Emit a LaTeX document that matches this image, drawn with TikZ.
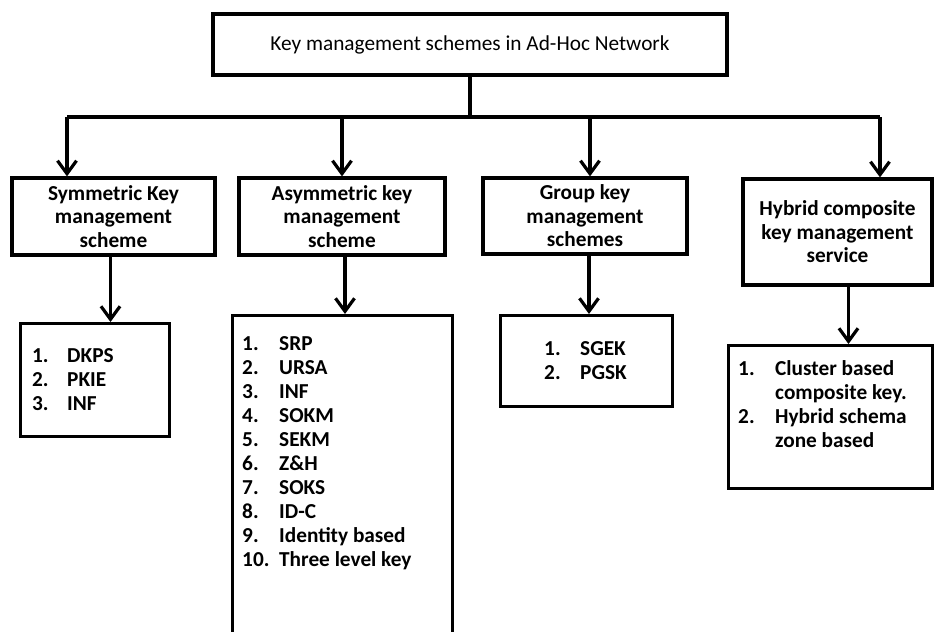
\documentclass[tikz,border=0pt]{standalone}
\usepackage{fontspec}
\setmainfont{Carlito}
\usetikzlibrary{arrows.meta,positioning,calc}

\begin{document}
\begin{tikzpicture}[x=1pt, y=-1pt,
    box/.style={rectangle, draw, line width=3.2pt, align=center, inner sep=0pt, font=\bfseries\fontsize{21.3}{23.5}\selectfont},
    listbox/.style={rectangle, draw, line width=3.2pt, anchor=north west, inner sep=0pt},
    listtext/.style={anchor=base west, inner sep=0pt, align=left, font=\bfseries\fontsize{21.3}{24}\selectfont},
    arrow/.style={-{Straight Barb[length=13pt,width=19pt]}, line width=3.2pt},
    link/.style={line width=3.2pt},
]
\useasboundingbox (0,0) rectangle (935,632);
\clip (0,0) rectangle (935,632);

% === ROOT ===
\node[box, font=\fontsize{21.3}{24}\selectfont, minimum width=514pt, minimum height=61pt] (root) at (470,44.5) {Key management schemes in Ad-Hoc Network};

% === SCHEMES ===
\node[box, minimum width=203pt, minimum height=77pt] (sym) at (113.5,216.5) {Symmetric Key\\management\\scheme};
\node[box, minimum width=206pt, minimum height=77pt] (asym) at (342,216.5) {Asymmetric key\\management\\scheme};
\node[box, minimum width=204pt, minimum height=76pt] (grp) at (585,216) {Group key\\management\\schemes};
\node[box, minimum width=189pt, minimum height=106pt] (hyb) at (837.5,232) {Hybrid composite\\key management\\service};

% === LISTS ===
\node[listbox, minimum width=149pt, minimum height=113pt] (slist) at (19,322) {};
\node[listbox, minimum width=220pt, minimum height=400pt] (alist) at (231,314) {};
\node[listbox, minimum width=172pt, minimum height=91pt] (glist) at (499,314) {};
\node[listbox, minimum width=204pt, minimum height=143pt] (hlist) at (727,344) {};

\node[listtext] (slisttxt) at ($(slist.north west)+(13,40)$) {\begin{tabular}[t]{@{}p{35pt}@{}l@{}}
1. & DKPS\\ 2. & PKIE\\ 3. & INF
\end{tabular}};
\node[listtext] (alisttxt) at ($(alist.north west)+(11,36)$) {\begin{tabular}[t]{@{}p{37pt}@{}l@{}}
1. & SRP\\ 2. & URSA\\ 3. & INF\\ 4. & SOKM\\ 5. & SEKM\\ 6. & Z\&H\\ 7. & SOKS\\ 8. & ID-C\\ 9. & Identity based\\ 10. & Three level key
\end{tabular}};
\node[listtext] (glisttxt) at ($(glist.north west)+(45,41)$) {\begin{tabular}[t]{@{}p{36pt}@{}l@{}}
1. & SGEK\\ 2. & PGSK
\end{tabular}};
\node[listtext] (hlisttxt) at ($(hlist.north west)+(11,31)$) {\begin{tabular}[t]{@{}p{37pt}@{}l@{}}
1. & Cluster based\\ & composite key.\\ 2. & Hybrid schema\\ & zone based
\end{tabular}};

% === CONNECTORS ===
\coordinate (bus) at (470,117);
\coordinate (busL) at (67,117);
\coordinate (busR) at (880,117);
\draw[link] (root.south) -- (bus);
\draw[link] (busL) -- (busR);
\draw[arrow] (busL) -- (busL |- sym.north);
\draw[arrow] (bus -| asym.north) -- (asym.north);
\draw[arrow] ([xshift=5pt]bus -| grp.north) -- ([xshift=5pt]grp.north);
\draw[arrow] (busR) -- (busR |- hyb.north);

\draw[arrow] ([xshift=-3pt]sym.south) -- ([xshift=-3pt]sym.south |- slist.north);
\draw[arrow] ([xshift=3pt]asym.south) -- ([xshift=3pt]asym.south |- alist.north);
\draw[arrow] ([xshift=4pt]grp.south) -- ([xshift=4pt]grp.south |- glist.north);
\draw[arrow] ([xshift=11pt]hyb.south) -- ([xshift=11pt]hyb.south |- hlist.north);

\end{tikzpicture}
\end{document}
